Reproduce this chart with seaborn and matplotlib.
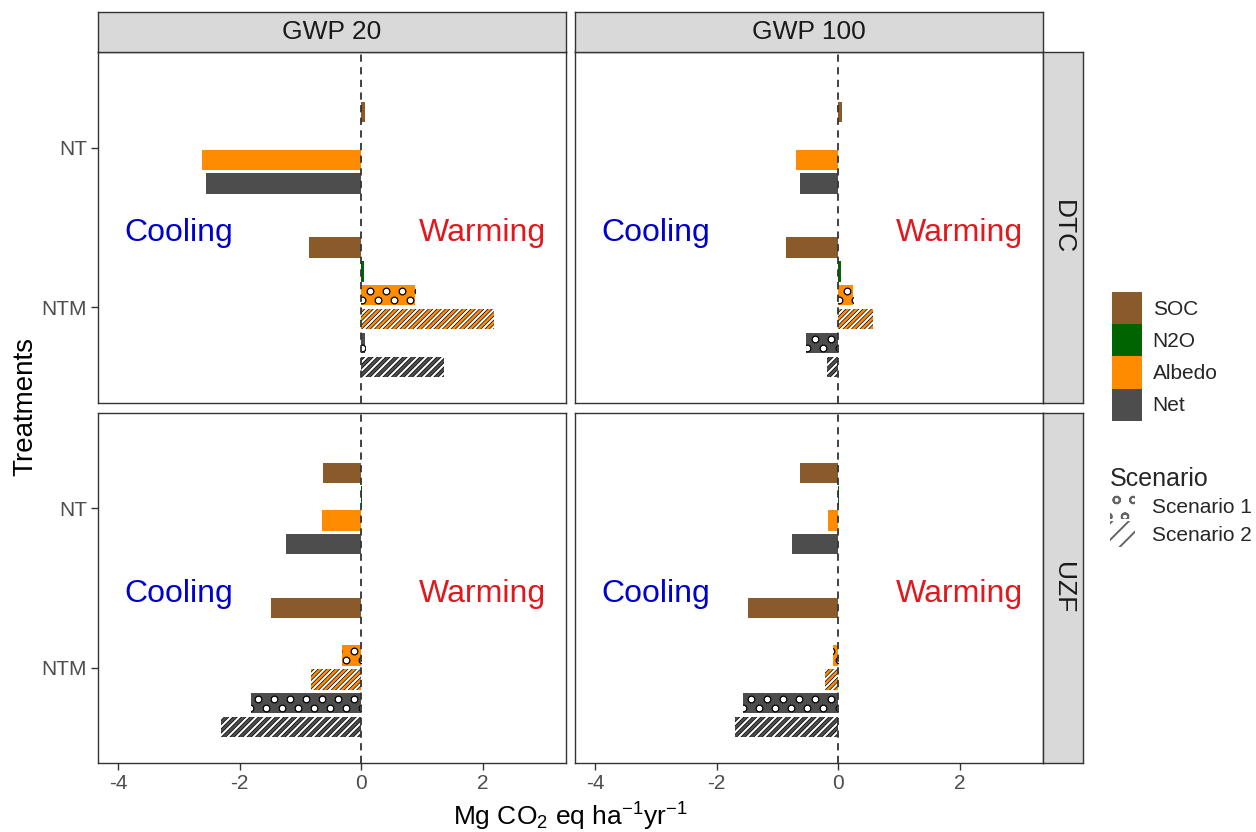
import numpy as np
import pandas as pd
import matplotlib
matplotlib.use("Agg")
import matplotlib.pyplot as plt
from matplotlib.patches import Patch
from matplotlib.collections import LineCollection
from matplotlib.lines import Line2D
from matplotlib.transforms import IdentityTransform
import seaborn as sns

# ---------------- data ----------------
gwp_levels = ["GWP 20", "GWP 100"]
site_levels = ["DTC", "UZF"]
treatments = ["NT", "NTM"]
components = ["SOC", "N2O", "Albedo", "Net"]

# bar composition of each treatment group
nt_components = ["SOC", "N2O", "Albedo", "Net"]
nt_scenarios = ["", "", "", ""]
ntm_components = ["SOC", "N2O", "Albedo", "Albedo", "Net", "Net"]
ntm_scenarios = ["", "", "Scenario 1", "Scenario 2", "Scenario 1", "Scenario 2"]

# Mg CO2 eq ha-1 yr-1
dtc_gwp20_nt = [0.07, 0.005, -2.62, -2.55]
dtc_gwp20_ntm = [-0.86, 0.04, 0.88, 2.18, 0.06, 1.37]
dtc_gwp100_nt = [0.07, 0.005, -0.70, -0.63]
dtc_gwp100_ntm = [-0.86, 0.04, 0.24, 0.58, -0.53, -0.18]
uzf_gwp20_nt = [-0.63, 0.02, -0.64, -1.24]
uzf_gwp20_ntm = [-1.48, 0.005, -0.32, -0.82, -1.81, -2.31]
uzf_gwp100_nt = [-0.63, 0.02, -0.16, -0.76]
uzf_gwp100_ntm = [-1.48, 0.005, -0.08, -0.22, -1.56, -1.70]

x_ticks = [-4, -2, 0, 2]

panel_values = {
    ("DTC", "GWP 20"): (dtc_gwp20_nt, dtc_gwp20_ntm),
    ("DTC", "GWP 100"): (dtc_gwp100_nt, dtc_gwp100_ntm),
    ("UZF", "GWP 20"): (uzf_gwp20_nt, uzf_gwp20_ntm),
    ("UZF", "GWP 100"): (uzf_gwp100_nt, uzf_gwp100_ntm),
}

palette = {"SOC": "#8B5A2B", "N2O": "#006400", "Albedo": "#FF8C00", "Net": "#4D4D4D"}

# ---------------- long table with dodged positions ----------------
group_defs = {"NT": (nt_components, nt_scenarios), "NTM": (ntm_components, ntm_scenarios)}
max_bars = max(len(v[0]) for v in group_defs.values())
dodge_width = 0.9
slot = dodge_width / max_bars

rows = []
for (site, gwp), (nt_vals, ntm_vals) in panel_values.items():
    for t_idx, (treat, vals) in enumerate(zip(treatments, (nt_vals, ntm_vals))):
        comps, scens = group_defs[treat]
        n = len(comps)
        for i, (c, s, v) in enumerate(zip(comps, scens, vals)):
            rows.append(dict(site=site, gwp=gwp, treatment=treat, component=c,
                             scenario=s, value=v,
                             pos=t_idx + 1 + (i - (n - 1) / 2) * slot))
df = pd.DataFrame(rows)

# ---------------- style ----------------
sns.set_style("white")
plt.rcParams["font.family"] = ["Liberation Sans", "DejaVu Sans"]
plt.rcParams["mathtext.fontset"] = "custom"
plt.rcParams["mathtext.rm"] = "Liberation Sans"
plt.rcParams["mathtext.it"] = "Liberation Sans:italic"
plt.rcParams["axes.unicode_minus"] = False
plt.rcParams["hatch.linewidth"] = 1.4

W, H = 1256, 832
fig = plt.figure(figsize=(W / 100, H / 100), dpi=100)
fig.patch.set_facecolor("white")


def box(l, t, r, b):
    return [l / W, 1 - b / H, (r - l) / W, (b - t) / H]


col_x = [(98, 566), (575, 1043)]
row_y = [(52, 403), (413, 763)]
frame_col = "#333333"
strip_fill = "#D9D9D9"


def stripe_fill(ax, bar, period=8.5):
    """Diagonal white stripes with dark outline, clipped to the bar."""
    ext = bar.get_window_extent()
    h = ext.y1 - ext.y0
    ox = ax.bbox.x0
    start = ox + np.floor((ext.x0 - h - ox) / period - 1) * period
    cs = np.arange(start, ext.x1 + period, period)
    segs = [[(c, ext.y0 - 2), (c + h + 4, ext.y1 + 2)] for c in cs]
    for color, lw in (("black", 2.5), ("white", 1.5)):
        lc = LineCollection(segs, colors=color, linewidths=lw,
                            transform=IdentityTransform(),
                            zorder=bar.get_zorder() + 0.1)
        ax.add_collection(lc, autolim=False)
        lc.set_clip_path(bar)


def dot_fill(ax, bar, sx=16.0, sy=9.0):
    """Staggered white circles with dark outline, clipped to the bar."""
    ext = bar.get_window_extent()
    ox = ax.bbox.x0
    yc = (ext.y0 + ext.y1) / 2
    xs, ys = [], []
    for k, yy in enumerate((yc + sy / 2, yc - sy / 2)):
        shift = sx / 2 * k
        start = ox + shift + np.floor((ext.x0 - ox - shift) / sx - 1) * sx
        for xx in np.arange(start, ext.x1 + sx, sx):
            xs.append(xx)
            ys.append(yy)
    ln = Line2D(xs, ys, linestyle="none", marker="o", markersize=4.8,
                markerfacecolor="white", markeredgecolor="black",
                markeredgewidth=0.9, transform=IdentityTransform(),
                zorder=bar.get_zorder() + 0.1)
    ax.add_line(ln)
    ln.set_clip_path(bar)


for ri, site in enumerate(site_levels):
    for ci, gwp in enumerate(gwp_levels):
        l, r = col_x[ci]
        t, b = row_y[ri]
        ax = fig.add_axes(box(l, t, r, b))
        sub = df[(df.site == site) & (df.gwp == gwp)].reset_index(drop=True)
        sns.barplot(data=sub, x="value", y="pos", hue="component",
                    hue_order=components, palette=palette, orient="y",
                    native_scale=True, dodge=False, width=0.85,
                    errorbar=None, saturation=1, linewidth=0,
                    legend=False, ax=ax)

        ax.set_xlim(-4.33, 3.37)
        ax.set_ylim(2.6, 0.4)
        ax.set_xticks(x_ticks)
        ax.set_yticks([1, 2])
        ax.set_yticklabels(treatments)
        ax.set_xlabel("")
        ax.set_ylabel("")
        ax.grid(False)

        # scenario fill patterns
        for bar in list(ax.patches):
            yc = bar.get_y() + bar.get_height() / 2
            m = sub[np.isclose(sub["pos"], yc)]
            if m.empty:
                continue
            scen = m["scenario"].iloc[0]
            if scen == "Scenario 1":
                dot_fill(ax, bar)
            elif scen == "Scenario 2":
                stripe_fill(ax, bar)

        ax.axvline(0, color="#333333", lw=1.3, ls=(0, (4, 3)), zorder=6)
        ax.text(-3.0, 1.585, "Cooling", color="#0000CD", fontsize=23,
                ha="center", va="baseline")
        ax.text(2.0, 1.585, "Warming", color="#E0191E", fontsize=23,
                ha="center", va="baseline")

        for sp in ax.spines.values():
            sp.set_color(frame_col)
            sp.set_linewidth(1.0)
            sp.set_visible(True)
        ax.tick_params(axis="both", length=5, width=1, color=frame_col,
                       labelsize=15, labelcolor="#4D4D4D", pad=3,
                       direction="out")
        ax.tick_params(axis="x", bottom=(ri == 1), labelbottom=(ri == 1))
        ax.tick_params(axis="y", left=(ci == 0), labelleft=(ci == 0))

        # column strips
        if ri == 0:
            sa = fig.add_axes(box(l, 12, r, 52))
            sa.set_facecolor(strip_fill)
            sa.set_xticks([]); sa.set_yticks([])
            for sp in sa.spines.values():
                sp.set_color(frame_col); sp.set_linewidth(1.0)
            sa.text(0.5, 0.5, gwp, fontsize=19, color="#1A1A1A",
                    ha="center", va="center", transform=sa.transAxes)
        # row strips
        if ci == 1:
            sa = fig.add_axes(box(1043, t, 1083, b))
            sa.set_facecolor(strip_fill)
            sa.set_xticks([]); sa.set_yticks([])
            for sp in sa.spines.values():
                sp.set_color(frame_col); sp.set_linewidth(1.0)
            sa.text(0.5, 0.5, site, fontsize=19, color="#1A1A1A",
                    rotation=270, ha="center", va="center",
                    transform=sa.transAxes)

# axis titles
fig.text(570 / W, 1 - 826 / H, "Mg CO$_2$ eq ha$^{-1}$yr$^{-1}$", fontsize=19,
         ha="center", va="baseline", color="black")
fig.text(25 / W, 1 - 407 / H, "Treatments", fontsize=20, rotation=90,
         ha="center", va="center", color="black")

# legends
fill_handles = [Patch(facecolor=palette[c], edgecolor="none", label=c)
                for c in components]
fig.legend(handles=fill_handles, loc="upper left",
           bbox_to_anchor=(1112 / W, 1 - 292 / H), frameon=False,
           fontsize=15, handlelength=1.45, handleheight=2.0,
           labelspacing=0.0, handletextpad=0.5, borderpad=0,
           borderaxespad=0)

scen_handles = [
    Patch(facecolor="white", edgecolor="#666666", hatch="o",
          linewidth=0, label="Scenario 1"),
    Patch(facecolor="white", edgecolor="#666666", hatch="//",
          linewidth=0, label="Scenario 2"),
]
fig.legend(handles=scen_handles, title="Scenario", loc="upper left",
           bbox_to_anchor=(1110 / W, 1 - 467 / H), frameon=False,
           fontsize=15, title_fontsize=18, handlelength=1.2,
           handleheight=1.54, labelspacing=0.1, handletextpad=0.8,
           borderpad=0, borderaxespad=0, alignment="left")

fig.savefig("out.png", dpi=100)
